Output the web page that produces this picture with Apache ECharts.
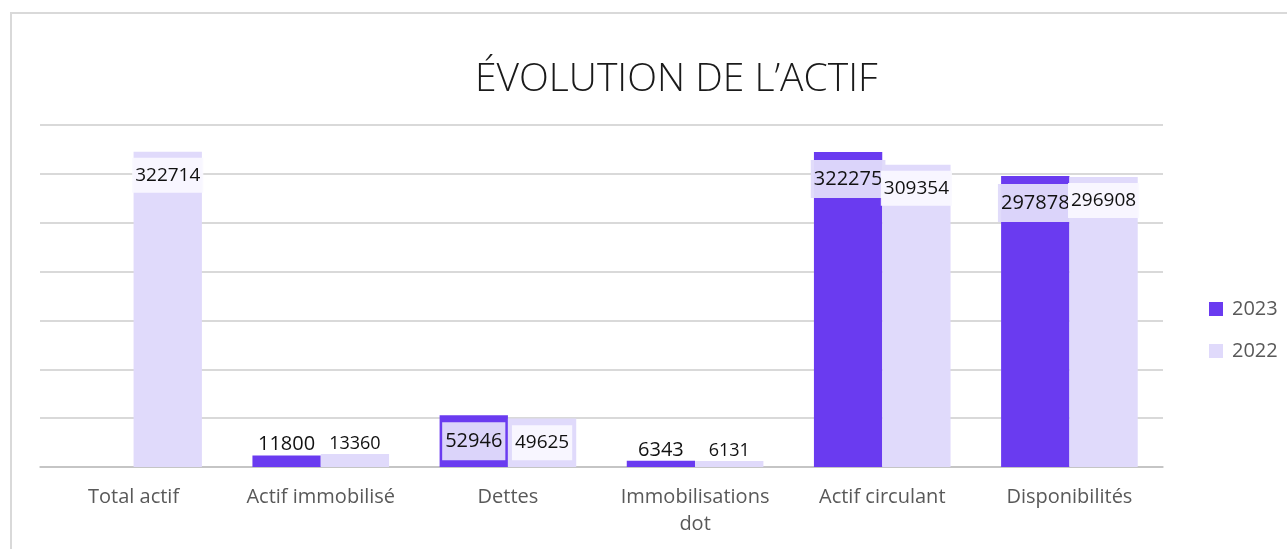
<!DOCTYPE html>
<html>
<head>
<meta charset="utf-8">
<script src="https://cdn.jsdelivr.net/npm/echarts@6/dist/echarts.min.js"></script>
<style>
  html, body { margin: 0; padding: 0; background: #fff; }
  #main { width: 1287px; height: 549px; }
</style>
</head>
<body>
<div id="main"></div>
<script>
  // données du graphique
  let categories = ['Total actif', 'Actif immobilisé', 'Dettes', 'Immobilisations\ndot', 'Actif circulant', 'Disponibilités'];
  let values2023 = [null, 11800, 52946, 6343, 322275, 297878];
  let values2022 = [322714, 13360, 49625, 6131, 309354, 296908];
  let seriesNames = ['2023', '2022'];

  let chart = echarts.init(document.getElementById('main'));

  // petites barres : étiquette au-dessus, grandes barres : à l'intérieur
  function toData(vals, smallSize) {
    return vals.map(v => {
      if (v == null) return null;
      if (v < 40000) {
        return { value: v, label: { position: 'top', distance: 1, fontSize: smallSize, padding: 0, backgroundColor: 'transparent' } };
      }
      if (v < 100000) {
        return { value: v, label: { position: 'inside' } };
      }
      return { value: v };
    });
  }

  let labelFont = '"Open Sans", "Noto Sans", sans-serif';

  let option = {
    backgroundColor: '#fff',
    animation: false,
    graphic: [{
      type: 'rect',
      shape: { x: 11, y: 13, width: 1290, height: 560 },
      style: { fill: 'none', stroke: '#d9d9d9', lineWidth: 2 }
    }],
    title: {
      text: 'ÉVOLUTION DE L’ACTIF',
      left: 470,
      top: 55,
      textStyle: { fontFamily: '"Open Sans", sans-serif', fontWeight: 300, fontSize: 39, color: '#1a1a1a' }
    },
    legend: {
      orient: 'vertical',
      left: 1204,
      top: 294,
      itemWidth: 14,
      itemHeight: 14,
      itemGap: 22,
      icon: 'rect',
      data: seriesNames,
      textStyle: { fontFamily: labelFont, fontSize: 20, color: '#595959', padding: [0, 0, 0, 4] }
    },
    grid: { left: 40, right: 124, top: 125, bottom: 82 },
    xAxis: {
      type: 'category',
      data: categories,
      axisTick: { show: false },
      axisLine: { lineStyle: { color: '#bfbfbf', width: 1.5 } },
      axisLabel: { fontFamily: labelFont, fontSize: 20, color: '#595959', margin: 17, lineHeight: 27, interval: 0 }
    },
    yAxis: {
      type: 'value',
      min: 0,
      max: 350000,
      interval: 50000,
      axisLabel: { show: false },
      axisLine: { show: false },
      axisTick: { show: false },
      splitLine: { lineStyle: { color: '#d9d9d9', width: 2 } }
    },
    series: [
      {
        name: '2023',
        type: 'bar',
        barGap: '0%',
        barCategoryGap: '27%',
        itemStyle: { color: '#6a3bf0' },
        data: toData(values2023, 20),
        label: {
          show: true,
          position: 'insideTop',
          distance: 8,
          fontFamily: labelFont,
          fontSize: 20,
          color: '#111',
          backgroundColor: 'rgba(224,219,250,0.96)',
          padding: [9, 3, 9, 3]
        }
      },
      {
        name: '2022',
        type: 'bar',
        itemStyle: { color: '#e0dafb' },
        data: toData(values2022, 18),
        label: {
          show: true,
          position: 'insideTop',
          distance: 6,
          fontFamily: labelFont,
          fontSize: 19,
          color: '#111',
          backgroundColor: 'rgba(250,249,255,0.92)',
          padding: [8, 3, 8, 3]
        }
      }
    ]
  };

  chart.setOption(option);
</script>
</body>
</html>
